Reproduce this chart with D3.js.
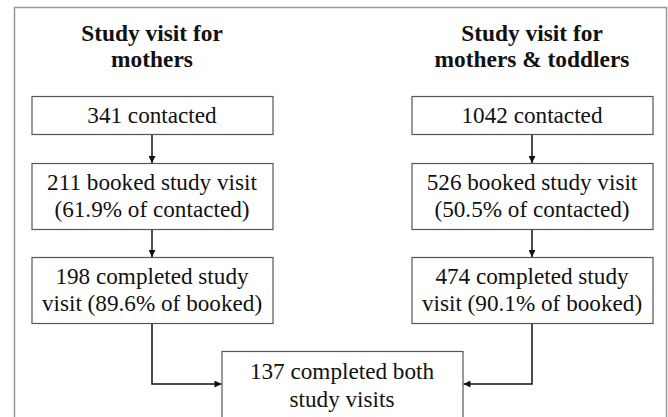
<!DOCTYPE html>
<html lang="en">
<head>
	<meta charset="UTF-8">
	<title>Study visits flowchart</title>
	<style>
		body { margin: 0; background: #fff; }
		text { font-family: "Liberation Serif", "Times New Roman", serif; fill: #111; }
	</style>
</head>
<body>
	<svg width="668" height="417"></svg>

	<script src="https://d3js.org/d3.v7.min.js"></script>
	<script>
		// data
		var groups = ["mothers", "toddlers"];
		var titles = [["Study visit for", "mothers"], ["Study visit for", "mothers & toddlers"]];
		var stages = ["contacted", "booked", "completed"];
		var boxText = {
			mothers: [["341 contacted"], ["211 booked study visit", "(61.9% of contacted)"], ["198 completed study", "visit (89.6% of booked)"]],
			toddlers: [["1042 contacted"], ["526 booked study visit", "(50.5% of contacted)"], ["474 completed study", "visit (90.1% of booked)"]]
		};
		var bothText = ["137 completed both", "study visits"];

		var svg = d3.select("svg");

		// outer frame
		svg.append("rect")
			.attr("x", 14.5).attr("y", 7.5)
			.attr("width", 652).attr("height", 430)
			.attr("fill", "none").attr("stroke", "#999").attr("stroke-width", 1.5);

		var x = d3.scaleOrdinal().domain(groups).range([152, 532]);
		var boxW = 241;
		// top and bottom of each stage box
		var yTop = d3.scaleOrdinal().domain(stages).range([96, 163, 257]);
		var yBot = d3.scaleOrdinal().domain(stages).range([134, 229, 323]);
		var lineH = 27;
		var fs = 23.2;

		svg.append("defs").append("marker")
			.attr("id", "arr")
			.attr("viewBox", "0 0 10 10")
			.attr("refX", 10).attr("refY", 5)
			.attr("markerWidth", 8).attr("markerHeight", 7)
			.attr("markerUnits", "userSpaceOnUse")
			.attr("orient", "auto")
			.append("path").attr("d", "M0,0L10,5L0,10Z").attr("fill", "#111");

		function box(cx, y0, y1, lines) {
			svg.append("rect")
				.attr("x", cx - boxW / 2 + 0.5).attr("y", y0 + 0.5)
				.attr("width", boxW).attr("height", y1 - y0)
				.attr("fill", "#fff").attr("stroke", "#555").attr("stroke-width", 1.2);
			var mid = (y0 + y1) / 2;
			var first = mid - (lines.length - 1) * lineH / 2 + 7.5;
			lines.forEach(function (t, i) {
				svg.append("text")
					.attr("x", cx).attr("y", first + i * lineH)
					.attr("text-anchor", "middle")
					.attr("font-size", fs)
					.text(t);
			});
		}

		groups.forEach(function (g, gi) {
			var cx = x(g);
			titles[gi].forEach(function (t, i) {
				svg.append("text")
					.attr("x", cx).attr("y", 41 + i * 26)
					.attr("text-anchor", "middle")
					.attr("font-size", 23.4).attr("font-weight", "bold")
					.text(t);
			});
			stages.forEach(function (s, si) {
				box(cx, yTop(s), yBot(s), boxText[g][si]);
				if (si > 0) {
					svg.append("line")
						.attr("x1", cx).attr("x2", cx)
						.attr("y1", yBot(stages[si - 1]) + 1).attr("y2", yTop(s))
						.attr("stroke", "#111").attr("stroke-width", 1.5)
						.attr("marker-end", "url(#arr)");
				}
			});
		});

		// combined box
		var bx = (x("mothers") + x("toddlers")) / 2;
		var bTop = 351, bBot = 435, arrowY = 384;
		groups.forEach(function (g, gi) {
			var cx = x(g);
			var edge = gi === 0 ? bx - boxW / 2 : bx + boxW / 2 + 1;
			svg.append("path")
				.attr("d", "M" + cx + "," + (yBot("completed") + 1) + "V" + arrowY + "H" + edge)
				.attr("fill", "none").attr("stroke", "#111").attr("stroke-width", 1.5)
				.attr("marker-end", "url(#arr)");
		});
		svg.append("rect")
			.attr("x", bx - boxW / 2 + 0.5).attr("y", bTop + 0.5)
			.attr("width", boxW).attr("height", bBot - bTop)
			.attr("fill", "#fff").attr("stroke", "#555").attr("stroke-width", 1.2);
		bothText.forEach(function (t, i) {
			svg.append("text")
				.attr("x", bx).attr("y", 379 + i * 28)
				.attr("text-anchor", "middle")
				.attr("font-size", fs)
				.text(t);
		});
	</script>
</body>
</html>
